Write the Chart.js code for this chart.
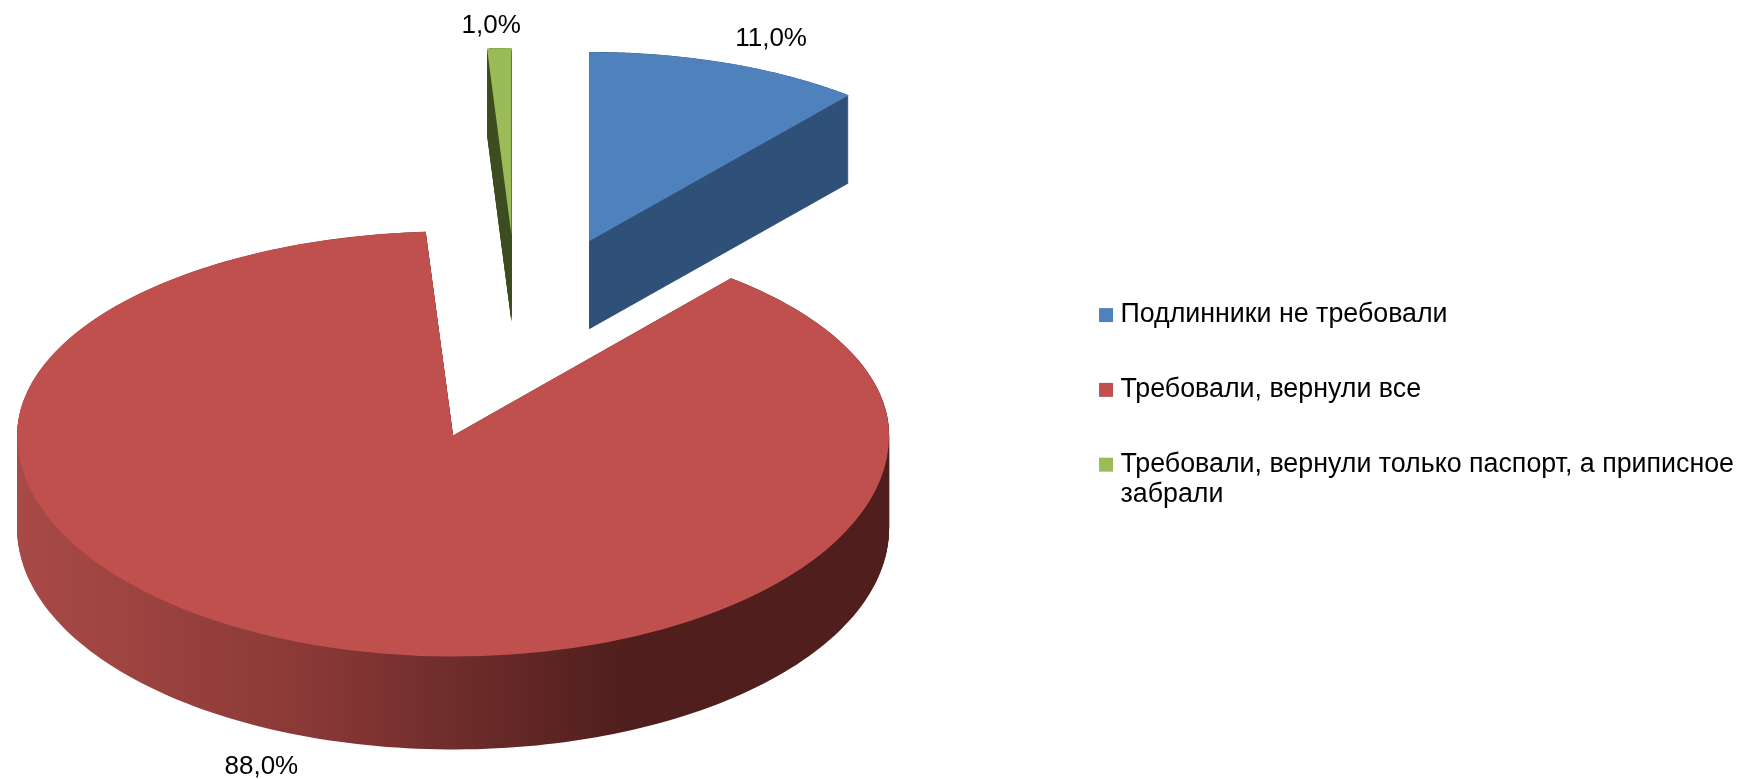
<!DOCTYPE html>
<html><head><meta charset="utf-8">
<style>html,body{margin:0;padding:0;background:#fff}canvas{display:block}</style>
<script src="https://cdn.jsdelivr.net/npm/chart.js@4"></script>
</head><body><canvas id="c" width="1744" height="779"></canvas>
<script>
const categories = ["Подлинники не требовали","Требовали, вернули все",["Требовали, вернули только паспорт, а приписное","забрали"]];
const values = [11,88,1];
const valueLabels = ["11,0%","88,0%","1,0%"];
const topColors = ["#4F81BD","#C0504D","#9BBB59"];
const wallColors = ["#305179",null,"#3F4F20"];
const wallStops = [[0,"#A84A47"],[0.1,"#A04542"],[0.33,"#8A3937"],[0.5,"#6F2D2B"],[0.7,"#4F1E1D"],[1,"#4F1E1D"]];
const FONT = '"Liberation Sans", Arial, sans-serif';

// 3D look: squash, explosion and slight perspective for each slice
const pieCentre = {x:518, y:337.75};
const explode = 210, explodeSquash = 0.489;
const widthScale = [0.934,1,0.89];
const upSquash = [0.434,0.468,0.429];
const downSquash = [0.434,0.507,0.429];
const depth = [88,93,87];
const labelShift = [[44,-24],[-57,121],[-8,-22]];

const pie3d = {
  id:'pie3d',
  beforeDatasetDraw(chart){
    const ctx = chart.ctx, arcs = chart.getDatasetMeta(0).data;
    const geo = arcs.map((el,i)=>{
      const mid = (el.startAngle+el.endAngle)/2;
      return {el,i,mid,
        tx:pieCentre.x+Math.cos(mid)*explode,
        ty:pieCentre.y+Math.sin(mid)*explode*explodeSquash};
    });
    // walls, back to front
    [0,2,1].forEach(i=>{
      const g = geo[i], el = g.el, r = el.outerRadius*widthScale[i];
      const pts = [[g.tx,g.ty]];
      const steps = 240;
      for(let s=0;s<=steps;s++){
        const a = el.startAngle+(el.endAngle-el.startAngle)*s/steps;
        const sn = Math.sin(a);
        pts.push([g.tx+Math.cos(a)*r, g.ty+sn*el.outerRadius*(sn<0?upSquash[i]:downSquash[i])]);
      }
      let fill = wallColors[i];
      if(!fill){
        fill = ctx.createLinearGradient(g.tx-r,0,g.tx+r,0);
        wallStops.forEach(s=>fill.addColorStop(s[0],s[1]));
      }
      ctx.save();
      ctx.fillStyle = fill;
      for(let d=depth[i];d>=0;d-=1){
        ctx.beginPath();
        pts.forEach((p,k)=>k?ctx.lineTo(p[0],p[1]+d):ctx.moveTo(p[0],p[1]+d));
        ctx.closePath();
        ctx.fill();
      }
      ctx.restore();
      // top face drawn by the library's own arc element
      const drawTop = (ky)=>{
        ctx.save();
        ctx.translate(g.tx,g.ty);
        ctx.scale(widthScale[i],ky);
        ctx.translate(-el.x,-el.y);
        el.draw(ctx);
        ctx.restore();
      };
      if(upSquash[i]===downSquash[i]) drawTop(upSquash[i]);
      else{
        ctx.save();ctx.beginPath();ctx.rect(0,0,chart.width,g.ty+0.5);ctx.clip();drawTop(upSquash[i]);ctx.restore();
        ctx.save();ctx.beginPath();ctx.rect(0,g.ty,chart.width,chart.height);ctx.clip();drawTop(downSquash[i]);ctx.restore();
      }
    });
    // value labels
    ctx.save();
    ctx.font = '26px '+FONT;
    ctx.fillStyle = '#000';
    ctx.textAlign='center';ctx.textBaseline='middle';
    geo.forEach(g=>{
      const i=g.i, el=g.el, sn=Math.sin(g.mid);
      const x = g.tx+Math.cos(g.mid)*el.outerRadius*widthScale[i];
      const y = g.ty+sn*el.outerRadius*(sn<0?upSquash[i]:downSquash[i]);
      ctx.fillText(valueLabels[i],x+labelShift[i][0],y+labelShift[i][1]);
    });
    ctx.restore();
    return false;
  }
};

new Chart(document.getElementById('c'),{
  type:'pie',
  data:{labels:categories,datasets:[{data:values,backgroundColor:topColors,borderWidth:0}]},
  options:{
    responsive:false,animation:false,radius:436,
    layout:{padding:{top:34,right:0}},
    plugins:{
      tooltip:{enabled:false},
      legend:{position:'right',align:'center',
        labels:{usePointStyle:true,pointStyle:'rect',boxWidth:2,boxHeight:14,padding:48,color:'#000',font:{family:FONT,size:26.8,lineHeight:1.12}}}
    }
  },
  plugins:[pie3d]
});
</script></body></html>
